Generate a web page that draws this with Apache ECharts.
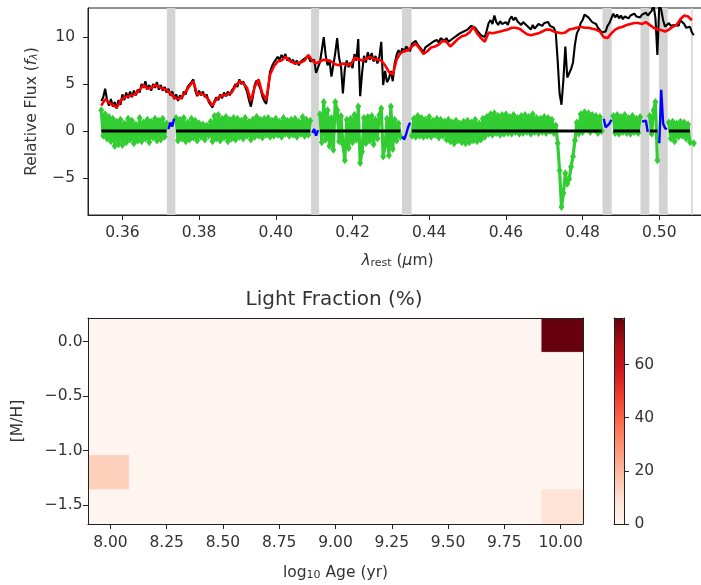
<!DOCTYPE html>
<html><head><meta charset="utf-8">
<script src="https://cdn.jsdelivr.net/npm/echarts@6/dist/echarts.min.js"></script>
<style>html,body{margin:0;padding:0;background:#fff}#c{width:701px;height:585px}</style>
</head><body><div id="c"></div><script>
// ---------- spectrum data ----------
const lamStart = 0.3545;   // first wavelength sample (um)
const lamStep = 0.0005;    // sampling of galaxy & residuals
const fitStart = 0.3545;
const fitStep = 0.001;     // sampling of the best-fit model

const galaxyFlux = [
 3.2,3.6,4.5,3.3,2.7,3.4,2.6,3.1,2.4,3.3,
 2.8,3.9,3.3,4.1,3.5,4.2,3.6,4.3,3.8,4.4,
 4.1,5.0,4.6,5.3,4.4,4.9,4.3,5.0,4.6,5.2,
 4.4,4.9,4.3,4.7,4.1,4.5,3.8,4.2,3.4,3.9,
 3.2,3.8,3.4,4.2,3.9,4.7,4.5,5.2,5.5,4.3,
 3.7,4.3,3.8,4.2,3.6,3.9,3.1,3.3,2.5,3.2,
 3.6,3.3,3.9,3.5,4.1,3.7,4.2,3.8,4.3,4.6,
 5.0,4.7,5.5,5.0,5.3,4.7,4.2,3.3,2.6,3.6,
 4.9,5.4,5.6,4.5,3.7,3.2,2.9,4.4,6.3,6.9,
 7.3,7.5,7.9,7.6,8.1,7.7,8.2,7.5,7.8,7.3,
 7.6,7.1,7.5,7.0,7.4,7.2,7.7,7.9,8.0,7.4,
 7.2,7.6,6.2,6.0,7.3,8.6,10.0,8.1,7.0,7.6,
 5.8,7.0,8.3,9.9,7.8,6.9,4.0,6.6,7.5,6.8,
 7.3,6.7,8.2,7.5,9.8,3.7,6.2,8.0,7.3,8.4,
 7.6,8.3,7.4,8.0,7.2,7.9,9.5,4.9,6.4,5.2,
 5.6,6.4,5.3,7.2,8.1,8.6,8.2,8.8,8.4,9.0,
 8.8,8.5,9.3,9.1,9.6,9.2,9.1,8.7,8.4,8.9,
 8.9,9.2,9.0,9.5,9.3,9.7,9.4,9.9,9.8,9.6,
 9.9,9.5,9.4,9.8,9.7,10.1,10.0,10.4,10.3,10.6,
 10.5,10.8,10.7,11.2,11.4,11.0,10.7,10.6,10.2,10.3,
 10.0,10.7,11.5,11.8,11.4,12.3,11.6,11.3,11.7,11.4,
 11.2,11.6,11.3,11.9,12.2,11.8,12.1,11.7,11.5,11.3,
 11.6,11.8,11.2,11.0,10.8,11.3,10.9,11.1,11.4,11.2,
 11.2,11.5,11.3,11.6,11.2,11.4,11.0,10.5,7.5,4.0,
 2.8,5.5,9.0,5.7,5.6,6.6,7.3,9.2,10.4,10.8,
 11.5,11.8,12.4,12.6,12.1,11.9,11.6,11.8,11.4,11.0,
 10.8,10.5,10.4,10.6,11.2,11.5,12.0,12.5,12.1,12.4,
 12.0,12.3,11.9,12.2,12.4,12.0,12.3,12.1,12.5,12.2,
 12.3,12.1,12.4,12.2,12.6,12.3,12.5,12.8,13.4,12.0,
 8.1,13.5,12.9,11.8,11.1,11.3,11.5,11.2,11.4,11.3,
 11.5,11.2,11.8,11.6,11.4,11.0,10.8,11.1,10.5,10.2
];

const bestFit = [
 2.7,3.4,3.0,2.8,2.5,3.2,3.6,3.7,3.8,4.0,
 4.4,4.9,4.5,4.6,4.9,4.7,4.5,4.4,4.0,3.6,
 3.4,3.6,4.2,4.8,5.3,3.9,4.0,3.8,3.3,2.7,
 3.4,3.7,3.8,3.9,4.1,4.8,5.3,5.1,4.6,3.2,
 4.7,5.5,4.0,3.3,6.0,6.9,7.4,7.5,7.9,7.5,
 7.3,7.2,7.3,7.5,8.1,7.5,7.2,7.4,7.6,7.5,
 7.4,7.1,7.0,7.2,7.1,7.0,7.8,7.7,7.5,7.7,
 7.9,7.7,7.6,7.5,7.0,6.3,6.0,7.6,8.3,8.5,
 8.6,9.0,9.3,8.8,8.2,8.5,8.9,9.0,9.2,9.6,
 9.5,9.0,9.4,9.8,10.1,10.2,10.5,11.1,10.4,9.9,
 9.5,10.5,10.4,10.5,10.6,10.7,10.8,11.0,11.0,10.9,
 10.6,10.3,10.2,10.3,10.4,10.6,10.8,10.8,10.6,10.5,
 10.4,10.5,10.8,10.9,11.0,11.1,11.0,11.0,10.9,10.8,
 10.6,10.0,9.9,10.4,10.8,11.0,11.1,11.3,11.4,11.5,
 11.5,11.4,11.6,11.3,11.0,10.8,10.75,10.6,10.8,11.1,
 11.3,11.9,12.3,12.2,11.8
];

const residuals = [
 2.2,-0.5,1.8,-0.8,1.5,-1.1,1.3,-1.6,1.0,-1.4,
 1.2,-1.5,0.8,-1.2,1.3,-0.9,1.1,-1.3,0.7,-1.0,
 1.4,-1.1,0.9,-0.8,1.2,-1.2,1.0,-0.7,1.3,-1.0,
 1.1,-0.9,1.3,-0.6,0.8,0.2,0.9,0.5,1.3,1.4,
 -1.0,1.2,-0.8,1.4,-1.1,0.9,-0.9,1.3,-0.7,1.1,
 -1.0,0.8,-0.6,0.7,-0.9,0.6,-0.5,1.0,-1.1,1.6,
 -0.8,1.7,-1.0,1.3,-0.7,1.5,-1.1,1.2,-0.8,1.4,
 -0.9,1.3,-0.6,1.1,-0.8,1.4,-0.5,1.0,-0.9,1.2,
 -0.6,1.5,-0.5,1.2,-0.7,1.3,-0.4,1.4,-0.6,1.1,
 -0.5,1.3,-0.4,1.0,-0.6,1.4,-0.3,1.1,-0.5,1.2,
 -0.4,1.3,-0.6,1.0,-0.3,1.5,-0.5,1.2,-0.4,1.1,
 -0.2,0.2,-0.5,0.1,1.8,-1.2,3.1,-0.9,2.2,-1.6,
 1.4,-2.0,3.1,2.2,-1.1,1.6,-1.4,-3.1,1.2,-1.8,
 1.3,-1.2,1.7,-0.9,2.6,-3.4,-2.2,1.4,-1.3,1.5,
 -1.0,1.6,-1.4,1.2,-0.8,1.7,2.4,-2.7,-1.6,1.3,
 -2.6,2.6,-1.9,1.2,-1.0,0.8,-0.6,-0.6,-0.9,-0.3,
 0.4,0.9,-0.5,1.3,-0.6,1.6,-0.5,1.4,-0.6,1.2,
 -0.5,1.5,-0.6,1.1,-0.4,1.3,-0.7,1.2,-0.5,1.0,
 -0.9,1.2,-1.1,0.9,-1.3,1.1,-1.0,0.8,-1.2,1.0,
 -1.3,1.1,-1.2,0.9,-1.0,1.2,-1.1,0.8,-0.9,1.3,
 -0.6,1.5,-0.3,1.8,-0.4,1.9,-0.2,1.6,-0.4,1.7,
 -0.3,1.8,-0.2,1.5,-0.3,1.7,-0.1,1.4,-0.3,1.6,
 -0.2,1.7,-0.1,1.5,-0.3,1.8,-0.1,1.4,-0.2,1.3,
 -0.1,1.5,-0.2,1.4,0.0,1.2,-0.2,0.6,-1.3,-4.2,
 -8.1,-6.6,-4.5,-5.6,-5.1,-3.8,-2.7,-1.0,0.9,-0.3,
 1.8,-0.1,2.0,0.2,1.9,-0.1,1.7,0.1,1.6,-0.2,
 1.5,0.0,1.3,0.4,0.3,0.8,1.2,1.6,-0.2,1.7,
 -0.3,1.5,-0.1,1.7,-0.2,1.4,-0.3,1.6,-0.1,1.3,
 -0.2,1.5,1.0,0.8,1.1,-0.1,1.6,-0.3,2.2,3.1,
 -3.1,-1.3,4.4,0.8,0.3,0.2,0.9,-0.8,1.0,-1.1,
 0.8,-0.6,1.0,-0.5,0.9,-0.8,0.7,-1.2,0.4,-1.3
];

// masked wavelength ranges (grey bands)
const maskBands = [
 [0.3716,0.3738],[0.4092,0.4113],[0.4329,0.4354],[0.4852,0.4876],
 [0.4951,0.4974],[0.4999,0.5022],[0.5083,0.5087]
];
const specXRange = [0.35103, 0.51244];
const specYRange = [-8.94, 13.1];
const specXTicks = [0.36,0.38,0.40,0.42,0.44,0.46,0.48,0.50];
const specYTicks = [-5,0,5,10];

// ---------- light-fraction grid ----------
const ageCenters = [7.992,8.175,8.358,8.542,8.725,8.908,9.092,9.275,9.458,9.642,9.825,10.008];
const mhCenters = [0.06,-0.255,-0.57,-0.885,-1.2,-1.515];
const lightFraction = [
 [0,0,0,0,0,0,0,0,0,0,0,77.5],
 [0,0,0,0,0,0,0,0,0,0,0,0],
 [0,0,0,0,0,0,0,0,0,0,0,0],
 [0,0,0,0,0,0,0,0,0,0,0,0],
 [14.0,0,0,0,0,0,0,0,0,0,0,0],
 [0,0,0,0,0,0,0,0,0,0,0,8.5]
];
const ageTicks = [8.00,8.25,8.50,8.75,9.00,9.25,9.50,9.75,10.00];
const mhTicks = [0.0,-0.5,-1.0,-1.5];
const cbarTicks = [0,20,40,60];
const cbarMax = 77.5;
const REDS = ['#fff5f0','#fee0d2','#fcbba1','#fc9272','#fb6a4a','#ef3b2c','#cb181d','#a50f15','#67000d'];

// ---------- build series data ----------
const lamAt = i => +(lamStart + i*lamStep).toFixed(5);
const isMasked = l => maskBands.some(b => l >= b[0] && l <= b[1]);
const galaxyData = galaxyFlux.map((v,i) => [lamAt(i), v]);
const fitData = bestFit.map((v,i) => [+(fitStart + i*fitStep).toFixed(5), v]);
const greenData = [], blueData = [], zeroData = [];
let prevMasked = false;
residuals.forEach((v,i) => {
  const l = lamAt(i), m = isMasked(l);
  greenData.push(m ? [l,'-'] : [l,v]);
  zeroData.push(m ? [l,'-'] : [l,0]);
  if (m) blueData.push([l,v]); else if (prevMasked) blueData.push([l,'-']);
  prevMasked = m;
});
const heatData = [];
mhCenters.forEach((m,j) => ageCenters.forEach((a,i) => heatData.push([a, m, lightFraction[j][i]])));
const ageHalf = (ageCenters[1]-ageCenters[0])/2;
const mhHalf = Math.abs(mhCenters[1]-mhCenters[0])/2;
const ageRange = [ageCenters[0]-ageHalf, ageCenters[ageCenters.length-1]+ageHalf];
const mhRange = [mhCenters[mhCenters.length-1]-mhHalf, mhCenters[0]+mhHalf];

const FONT = 'DejaVu Sans', FS = 15.5, TXT = '#333', AX = '#222';
const minus = s => String(s).replace('-', '\u2212');
const lineOnly = (grid, pos, extra) => Object.assign({
  gridIndex: grid, position: pos, type: 'value', z: 10,
  axisLine: {show: true, onZero: false, lineStyle: {color: AX, width: 1}},
  axisTick: {show: false}, axisLabel: {show: false}, splitLine: {show: false}
}, extra || {});
const tickAxis = (ticks, fmt, margin, extra) => Object.assign({
  type: 'value', z: 10,
  axisLine: {show: true, onZero: false, lineStyle: {color: AX, width: 1}},
  axisTick: {show: true, length: 5, customValues: ticks, lineStyle: {color: AX, width: 1}},
  axisLabel: {show: true, customValues: ticks, formatter: fmt, color: TXT, fontSize: FS, fontFamily: FONT, margin: margin},
  splitLine: {show: false}
}, extra);
const rich = {
  n: {fontSize: FS, fontFamily: FONT, color: TXT},
  i: {fontSize: FS, fontFamily: FONT, color: TXT, fontStyle: 'italic'},
  s: {fontSize: 11, fontFamily: FONT, color: TXT, verticalAlign: 'bottom', padding: [6,0,0,0]},
  si: {fontSize: 11, fontFamily: FONT, color: TXT, fontStyle: 'italic', verticalAlign: 'bottom', padding: [6,0,0,0]}
};

const option = {
  animation: false,
  backgroundColor: '#fff',
  textStyle: {fontFamily: FONT},
  title: {text: 'Light Fraction (%)', left: 245.5, top: 290, padding: 0,
    textStyle: {fontSize: 20, fontWeight: 'normal', color: TXT, fontFamily: FONT}},
  grid: [
    {left: 88, top: 8, width: 619, height: 207, show: true, borderColor: AX, borderWidth: 1, outerBoundsMode: 'none', containLabel: false},
    {left: 88, top: 318, width: 495, height: 206, outerBoundsMode: 'none', containLabel: false},
    {left: 614, top: 318, width: 10, height: 206, outerBoundsMode: 'none', containLabel: false}
  ],
  xAxis: [
    tickAxis(specXTicks, v => v.toFixed(2), 10, {gridIndex: 0, position: 'bottom', min: specXRange[0], max: specXRange[1],
      name: '{i|\u03bb}{s|rest}{n| (}{i|\u03bc}{n|m)}', nameLocation: 'middle', nameGap: 37, nameTextStyle: {rich}}),
    tickAxis(ageTicks, v => v.toFixed(2), 11, {gridIndex: 1, position: 'bottom', min: ageRange[0], max: ageRange[1],
      name: '{n|log}{s|10}{n| Age (yr)}', nameLocation: 'middle', nameGap: 40, nameTextStyle: {rich}}),
    lineOnly(1, 'top', {min: ageRange[0], max: ageRange[1]}),
    lineOnly(2, 'bottom', {min: 0, max: 1}),
    lineOnly(2, 'top', {min: 0, max: 1})
  ],
  yAxis: [
    tickAxis(specYTicks, v => minus(v), 13, {gridIndex: 0, position: 'left', min: specYRange[0], max: specYRange[1],
      name: '{n|Relative Flux (}{i|f}{si|\u03bb}{n|)}', nameLocation: 'middle', nameGap: 48, nameTextStyle: {rich}}),
    tickAxis(mhTicks, v => minus(v.toFixed(1)), 5.5, {gridIndex: 1, position: 'left', min: mhRange[0], max: mhRange[1],
      name: '{n|[M/H]}', nameLocation: 'middle', nameGap: 62, nameTextStyle: {rich}}),
    lineOnly(1, 'right', {min: mhRange[0], max: mhRange[1]}),
    tickAxis(cbarTicks, v => String(v), 10.5, {gridIndex: 2, position: 'right', min: 0, max: cbarMax}),
    lineOnly(2, 'left', {min: 0, max: cbarMax})
  ],
  visualMap: {
    type: 'continuous', min: 0, max: cbarMax, dimension: 2, seriesIndex: 6,
    inRange: {color: REDS}, orient: 'vertical', left: 614, top: 318,
    itemWidth: 10, itemHeight: 206, calculable: false, padding: 0, hoverLink: false
  },
  series: [
    {type: 'line', xAxisIndex: 0, yAxisIndex: 0, data: [], z: 1, silent: true,
      markArea: {silent: true, itemStyle: {color: '#d3d3d3'},
        data: maskBands.map(b => [{xAxis: b[0]}, {xAxis: b[1]}])}},
    {type: 'line', xAxisIndex: 0, yAxisIndex: 0, data: galaxyData, z: 2, symbol: 'none',
      lineStyle: {color: '#000', width: 2.1}},
    {type: 'line', xAxisIndex: 0, yAxisIndex: 0, data: greenData, z: 3, symbol: 'diamond', symbolSize: [6,8],
      showAllSymbol: true, connectNulls: false,
      itemStyle: {color: '#32cd32'}, lineStyle: {color: '#32cd32', width: 3.2, join: 'round'}},
    {type: 'line', xAxisIndex: 0, yAxisIndex: 0, data: blueData, z: 4, symbol: 'none', connectNulls: false,
      lineStyle: {color: '#0000ff', width: 2.4}},
    {type: 'line', xAxisIndex: 0, yAxisIndex: 0, data: zeroData, z: 5, symbol: 'none', connectNulls: false,
      lineStyle: {color: '#000', width: 3}},
    {type: 'line', xAxisIndex: 0, yAxisIndex: 0, data: fitData, z: 6, symbol: 'none',
      lineStyle: {color: '#ff0000', width: 2.6}},
    {type: 'custom', xAxisIndex: 1, yAxisIndex: 1, data: heatData, encode: {x: 0, y: 1}, clip: true, z: 2,
      renderItem: (params, api) => {
        const a = api.value(0), m = api.value(1);
        const p0 = api.coord([a - ageHalf, m + mhHalf]);
        const p1 = api.coord([a + ageHalf, m - mhHalf]);
        const c = api.visual('color');
        return {type: 'rect', shape: {x: p0[0], y: p0[1], width: p1[0]-p0[0], height: p1[1]-p0[1]},
          style: {fill: c, stroke: c, lineWidth: 0.6}};
      }}
  ]
};
const chart = echarts.init(document.getElementById('c'), null, {renderer: 'canvas'});
chart.setOption(option);
</script></body></html>
